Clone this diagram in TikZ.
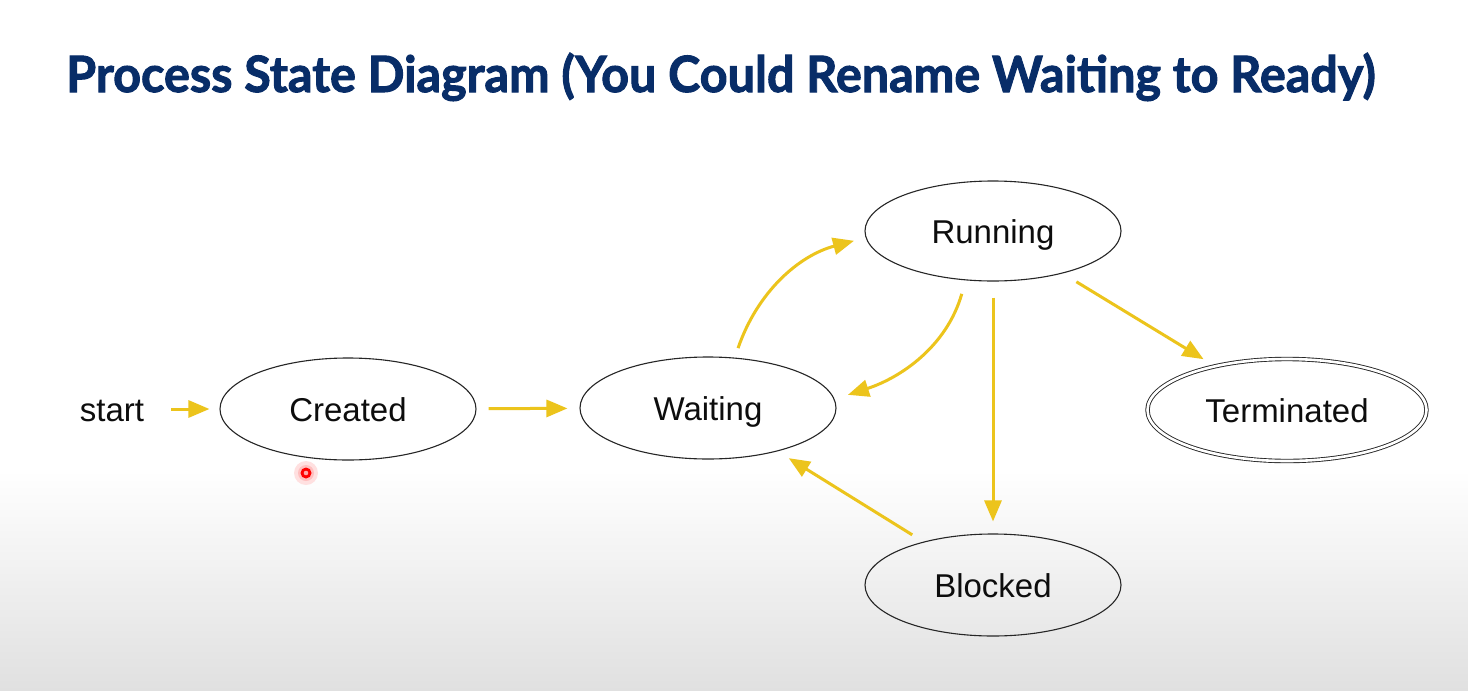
\documentclass[tikz,border=0pt]{standalone}
\usepackage{fontspec}
\setmainfont{Liberation Sans}
\newfontfamily\titlefont{Lato}[BoldFeatures={FakeBold=2}]
\usetikzlibrary{arrows.meta,shapes.geometric}
\definecolor{navy}{RGB}{8,45,104}
\definecolor{arrowyellow}{RGB}{236,196,28}
\definecolor{bggray}{RGB}{224,224,224}
\begin{document}
\begin{tikzpicture}[x=1pt,y=-1pt,
  state/.style={ellipse, draw=black!85, line width=1.1pt, minimum width=256pt,
    minimum height=102pt, inner sep=0pt, text height=24pt, text depth=0pt,
    font=\fontsize{33}{40}\selectfont, text=black!95},
  trans/.style={draw=arrowyellow, line width=3pt, -{Triangle[length=21pt,width=17pt]}}]
\fill[white] (0,0) rectangle (1468,691);
\shade[top color=white, bottom color=bggray] (0,470) rectangle (1468,691);
\useasboundingbox (0,0) rectangle (1468,691);

\node[anchor=base west, inner sep=0pt, text=navy,
  font=\titlefont\bfseries\fontsize{50}{60}\selectfont] (title) at (66,92)
  {\resizebox{1309pt}{\height}{Process State Diagram (You Could Rename Waiting to Ready)}};

\node[inner sep=0pt, text height=24pt, text depth=0pt, font=\fontsize{33}{40}\selectfont, text=black!95] (start) at (112,409) {start};
\node[state] (created) at (348,409) {Created};
\node[state] (waiting) at (708,408) {Waiting};
\node[state, minimum height=100pt] (running) at (993,231) {Running};
\node[state] (blocked) at (993,585) {Blocked};
\node[state, double, double distance=2.6pt, line width=0.9pt, minimum width=279pt,
  minimum height=102pt] (terminated) at (1287,410) {Terminated};

\draw[trans, shorten <=27pt, shorten >=10pt] (start) -- (created);
\draw[trans, shorten <=12pt, shorten >=12pt] (created) -- (waiting);
\draw[trans, shorten <=10pt, shorten >=12pt] (waiting.62) to[out=71, in=195] (running.183);
\draw[trans, shorten <=14pt, shorten >=14pt] (running.241) to[out=254, in=18] (waiting.4);
\draw[trans, shorten <=16pt, shorten >=13pt] (running) -- (terminated);
\draw[trans, shorten <=16pt, shorten >=12pt] (running) -- (blocked);
\draw[trans, shorten <=13pt, shorten >=13pt] (blocked) -- (waiting);

\coordinate (cursor) at (306,473);
\fill[red!12] (cursor) circle (12pt);
\fill[red!25] (cursor) circle (8pt);
\fill[red] (cursor) circle (5.5pt);
\fill[red!35] (cursor) circle (2.3pt);
\end{tikzpicture}
\end{document}
